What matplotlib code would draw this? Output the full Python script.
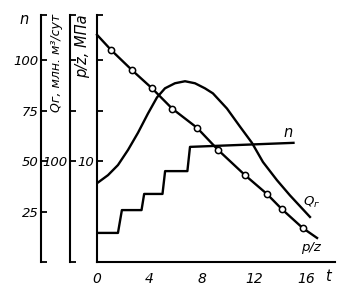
import matplotlib.pyplot as plt
from matplotlib.ticker import FixedLocator, FixedFormatter

# p/z line (time t, p/z in MPa); first and last points carry no marker
pz_t = [0, 1.07, 2.67, 4.2, 5.73, 7.63, 9.24, 11.3, 12.98, 14.1, 15.7, 16.8]
pz_v = [22.5, 21.0, 19.0, 17.2, 15.2, 13.3, 11.1, 8.6, 6.73, 5.25, 3.37, 2.38]

# gas rate Q_g (млн. м3/сут)
q_t = [0, 0.84, 1.6, 2.37, 3.13, 3.89, 4.58, 5.19, 5.95, 6.72, 7.48, 8.24,
       8.85, 9.92, 10.92, 11.83, 12.67, 13.74, 14.73, 16.26]
q_v = [78, 86, 96, 111, 128, 147, 163, 172, 177, 179, 177, 172,
       167, 152, 134, 118, 99, 81, 66, 44.6]

# number of wells n (staircase)
n_t = [0, 1.6, 1.9, 3.4, 3.6, 5.0, 5.2, 6.9, 7.1, 15.0]
n_v = [14.4, 14.4, 25.7, 25.7, 33.7, 33.7, 45, 45, 57, 59]

x_ticks = [0, 4, 8, 12, 16]
n_ticks = [0, 25, 50, 75, 100, 122.3]
n_labels = ['', '25', '50', '75', '100', '']
q_ticks = [0, 100, 150, 200, 244.6]
q_labels = ['', '100', '', '', '']
pz_ticks = [10, 15, 20, 24.46]
pz_labels = ['10', '', '', '']

fs = 9.5
lw = 1.7

fig = plt.figure(figsize=(3.44, 2.92), dpi=100)
ax = fig.add_axes([97/344, 30/292, 238/344, 247/292])
axq = ax.twinx()
axn = ax.twinx()

ax.set_xlim(0, 18.17)
ax.set_ylim(0, 24.46)
axq.set_ylim(0, 244.6)
axn.set_ylim(0, 122.3)

for a in (ax, axq, axn):
    for s in ('top', 'right'):
        a.spines[s].set_visible(False)
    a.spines['left'].set_linewidth(1.5)
for a, pos in ((axq, -27/238), (axn, -56/238)):
    a.spines['bottom'].set_visible(False)
    a.spines['left'].set_visible(True)
    a.spines['left'].set_position(('axes', pos))
    a.yaxis.set_ticks_position('left')
ax.spines['bottom'].set_linewidth(1.5)

for a, t, l in ((ax, pz_ticks, pz_labels), (axq, q_ticks, q_labels), (axn, n_ticks, n_labels)):
    a.yaxis.set_major_locator(FixedLocator(t))
    a.yaxis.set_major_formatter(FixedFormatter(l))
    a.tick_params(axis='y', direction='in', length=4, width=1.3, pad=2,
                  labelsize=fs)
    for lab in a.get_yticklabels():
        lab.set_fontstyle('italic')

ax.set_xticks(x_ticks)
ax.set_xticklabels([str(v) for v in x_ticks], fontstyle='italic')
ax.tick_params(axis='x', length=0, pad=7, labelsize=fs + 0.5)
ax.text(17.6, -0.058, 't', transform=ax.get_xaxis_transform(), ha='center',
        va='center', fontsize=fs + 1, fontstyle='italic')

ax.plot(pz_t, pz_v, color='black', lw=lw, marker='o', markersize=4.5,
        markerfacecolor='white', markeredgewidth=1.1, markevery=list(range(1, len(pz_t) - 1)),
        clip_on=False)
axq.plot(q_t, q_v, color='black', lw=lw, solid_joinstyle='round')
axn.plot(n_t, n_v, color='black', lw=lw)

ax.text(16.3, 1.4, 'p/z', ha='center', va='center', fontsize=fs, fontstyle='italic')
axq.text(16.4, 59, '$Q_г$', ha='center', va='center', fontsize=fs)
axn.text(14.6, 64, 'n', ha='center', va='center', fontsize=fs + 1, fontstyle='italic')

fig.text(24/344, 1 - 19/292, 'n', ha='center', va='center', fontsize=fs + 1,
         fontstyle='italic')
fig.text(56/344, 1 - 14/292, 'Qг, млн. м³/сут', rotation=90, ha='center', va='top',
         fontsize=9, fontstyle='italic')
fig.text(83/344, 1 - 14/292, 'p/z, МПа', rotation=90, ha='center', va='top',
         fontsize=10.5, fontstyle='italic')

fig.savefig('out.png', dpi=100)
